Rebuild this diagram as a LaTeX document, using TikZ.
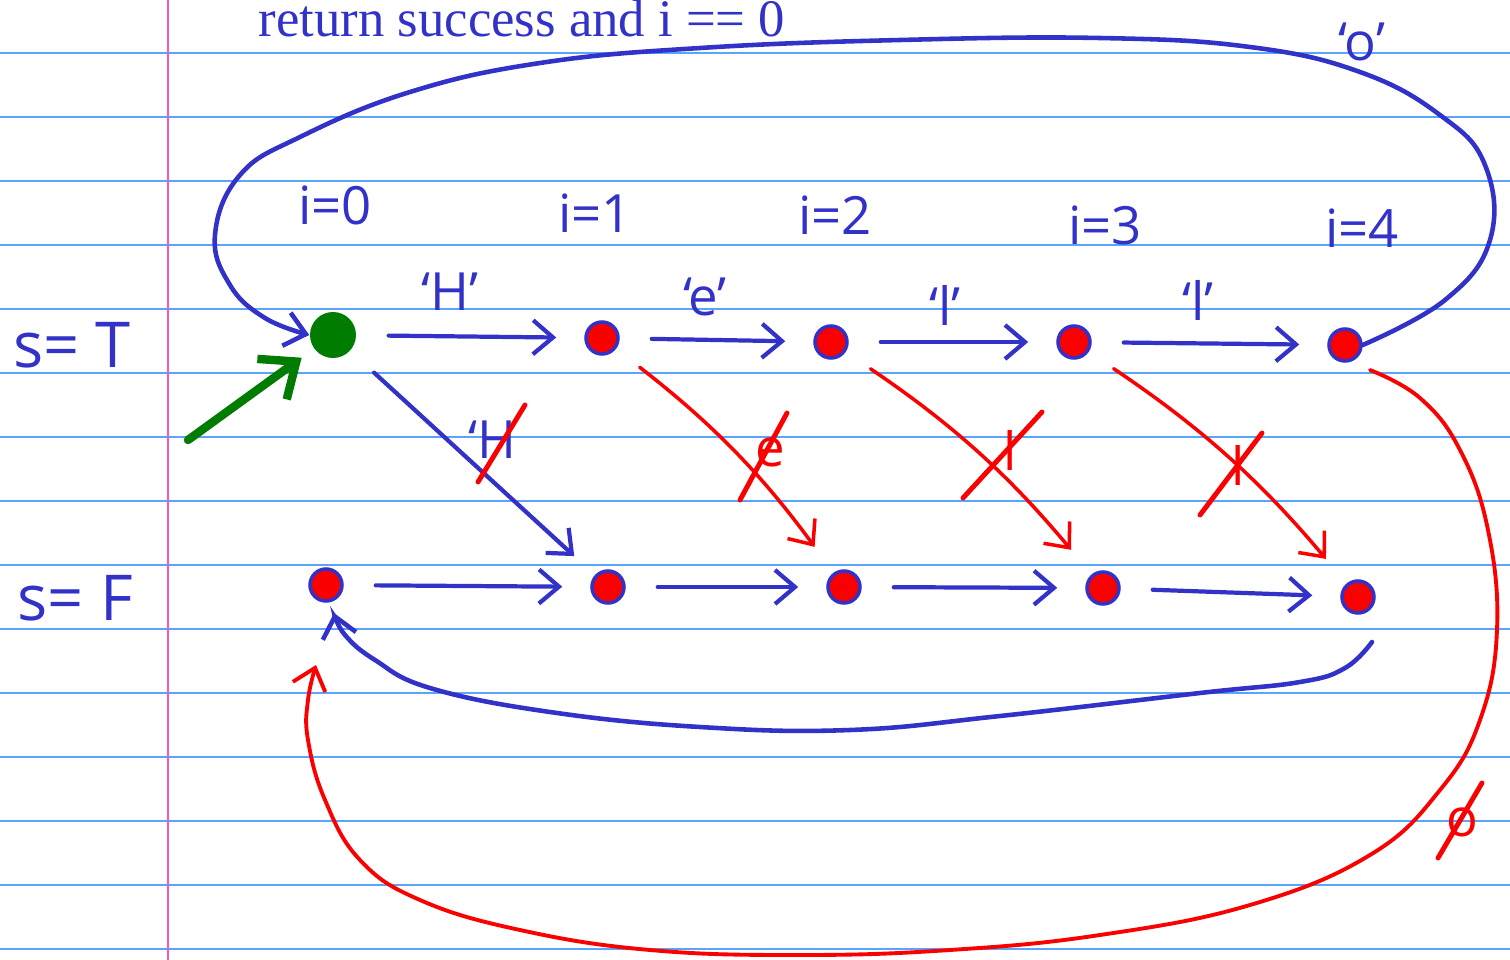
\documentclass[tikz,border=0pt]{standalone}
\usepackage{fontspec}
\setmainfont{Liberation Serif}
\newfontfamily\handfont{Open Sans}
\usetikzlibrary{arrows.meta}
\definecolor{ink}{RGB}{50,50,200}
\definecolor{inkred}{RGB}{250,0,0}
\definecolor{inkgreen}{RGB}{0,125,0}
\definecolor{ruleblue}{RGB}{90,165,250}
\definecolor{marginpink}{RGB}{240,90,180}
\tikzset{
  ruleline/.style={ruleblue, line width=0.45pt},
  state/.style={circle, fill=inkred, draw=ink, line width=1pt, minimum size=3.2mm, inner sep=0pt},
  startstate/.style={circle, fill=inkgreen, minimum size=4.6mm, inner sep=0pt},
  hand/.style={font=\handfont\fontsize{15}{15}\selectfont, text=ink, inner sep=0pt},
  bighand/.style={hand, font=\handfont\fontsize{18}{18}\selectfont},
  barb/.style={-{Straight Barb[length=2mm,width=3.4mm]}},
  trans/.style={ink, line width=1.2pt, line cap=round, barb, shorten <=3.2mm, shorten >=2.8mm},
  fail/.style={inkred, line width=1pt, line cap=round, barb, shorten <=3mm, shorten >=3.2mm},
  loopline/.style={line width=1.3pt, line cap=round, barb},
  strike/.style={inkred, line width=1.4pt, line cap=round}
}
\begin{document}
\begin{tikzpicture}[x=0.1mm, y=-0.1mm]
  \useasboundingbox (0,0) rectangle (1510,960);
  \clip (0,0) rectangle (1510,960);
  % Hoja rayada
  \foreach \y in {53,117,...,949}
    \draw[ruleline] (0,\y) -- (1510,\y);
  \draw[marginpink, line width=0.7pt] (168,0) -- (168,960);
  % Titulo
  \node[anchor=base west, inner sep=0pt, text=ink, font=\fontsize{15}{18}\selectfont]
    (title) at (258,36) {return success and i == 0};
  % Estados s=T y s=F
  \node[startstate] (t0) at (333,335) {};
  \foreach \n/\x/\y in {1/602/338, 2/831/342, 3/1074/342, 4/1345/345}
    \node[state] (t\n) at (\x,\y) {};
  \foreach \n/\x/\y in {0/326/585, 1/608/587, 2/844/587, 3/1103/588, 4/1358/597}
    \node[state] (f\n) at (\x,\y) {};
  % Filas
  \node[bighand] (sT) at (72,345) {s= T};
  \node[bighand] (sF) at (75,598) {s= F};
  \foreach \n/\x/\y in {0/335/205, 1/595/213, 2/835/215, 3/1105/225, 4/1362/228}
    \node[hand] (i\n) at (\x,\y) {i=\n};
  % Transiciones
  \foreach \a/\b in {0/1, 1/2, 2/3, 3/4} {
    \draw[trans] (t\a) -- (t\b);
    \draw[trans] (f\a) -- (f\b);
  }
  \node[hand] (cH) at (450,292) {‘H’};
  \node[hand] (ce) at (705,297) {‘e’};
  \node[hand] (cl1) at (945,305) {‘l’};
  \node[hand] (cl2) at (1198,300) {‘l’};
  \node[hand] (co) at (1362,42) {‘o’};
  % Diagonales (caracter distinto)
  \draw[trans] (t0) -- (f1);
  \foreach \a/\b in {1/2, 2/3, 3/4}
    \draw[fail] (t\a) to[bend left=8] (f\b);
  \node[hand] (nH) at (492,440) {‘H};
  \draw[strike] (478,482) -- (525,405);
  \node[hand, text=inkred] (ne) at (770,452) {e};
  \draw[strike] (740,500) -- (787,413);
  \node[hand, text=inkred] (nl1) at (1010,450) {l};
  \draw[strike] (963,498) -- (1042,412);
  \node[hand, text=inkred] (nl2) at (1238,465) {l};
  \draw[strike] (1200,515) -- (1262,433);
  \node[hand, text=inkred] (no) at (1462,822) {o};
  \draw[strike] (1438,858) -- (1482,783);
  % Lazos
  \draw[loopline, ink] plot[smooth, tension=0.7] coordinates {(t4.east) (1445,300)
    (1490,240) (1485,165) (1440,115) (1360,72) (1250,47) (1100,38) (900,40) (700,48)
    (540,63) (410,92) (300,137) (240,175) (215,235) (230,285) (265,318) (t0.west)};
  \draw[loopline, ink] plot[smooth, tension=0.7] coordinates {([shift={(14,45)}]f4.center)
    (1345,668) (1300,682) (1200,693) (1000,716) (850,730) (700,727) (550,712) (430,688)
    (375,660) (345,635) ([shift={(8,28)}]f0.center)};
  \draw[loopline, inkred, line width=1.1pt] plot[smooth, tension=0.7] coordinates {([shift={(25,25)}]t4.center)
    (1420,398) (1460,450) (1488,530) (1497,630) (1480,720) (1440,790) (1370,855)
    (1250,905) (1100,935) (950,950) (800,955) (650,950) (520,930) (420,900) (360,860)
    (325,800) (308,740) (308,700) ([shift={(-10,80)}]f0.center)};
  % Entrada
  \coordinate (entry) at (188,440);
  \draw[inkgreen, line width=2.4pt, line cap=round, -{Straight Barb[length=3mm,width=5mm]},
    shorten >=1.5mm] (entry) -- (t0);
\end{tikzpicture}
\end{document}
